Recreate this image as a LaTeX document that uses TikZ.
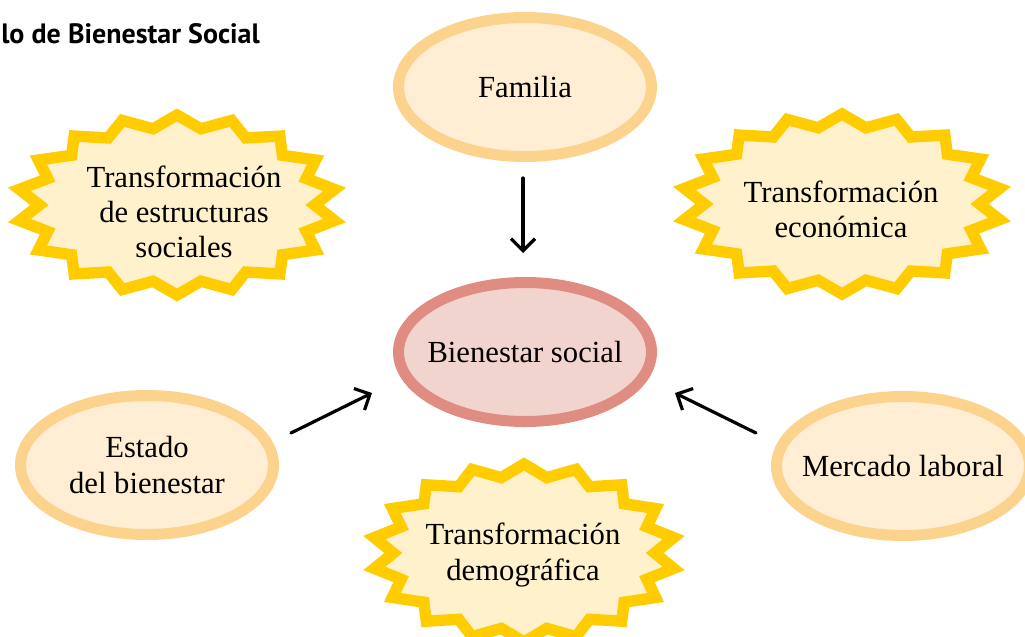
\documentclass[tikz,border=0pt]{standalone}
\usepackage{fontspec}
\setmainfont{Liberation Serif}
\newfontfamily\titulofont{PT Sans}
\usetikzlibrary{shapes.geometric,arrows.meta}
\definecolor{naranja}{HTML}{FCD38D}
\definecolor{crema}{HTML}{FFEDD4}
\definecolor{rosa}{HTML}{DF8D83}
\definecolor{rosaclaro}{HTML}{F2D4CE}
\definecolor{oro}{HTML}{FFCC00}
\definecolor{amarillo}{HTML}{FFF1CC}
\begin{document}
\begin{tikzpicture}[x=0.75pt,y=-0.75pt,>={Straight Barb[length=9pt,width=18pt]},
	font=\fontsize{23}{26.3}\selectfont, line cap=round,
	elipse/.style={ellipse,draw=naranja,fill=crema,line width=8.25pt,
		minimum width=189.75pt,minimum height=104.25pt,inner xsep=-25pt,inner ysep=0pt,align=center},
	central/.style={elipse,draw=rosa,fill=rosaclaro},
	estrella/.style={draw=oro,fill=amarillo,line width=8.5pt,line join=miter},
	flecha/.style={->,line width=2.4pt}]
	\useasboundingbox (0,0) rectangle (1025,636);
	% estrella: centro x, centro y, radio x, radio y
	\def\rayo#1#2#3#4{\draw[estrella] plot[domain=0:360,samples=37,variable=\t]
		({#1+#3*cos(\t)*(0.93-0.07*cos(18*\t))},{#2+#4*sin(\t)*(0.93-0.07*cos(18*\t))}) -- cycle;}
	\node[anchor=base west,inner sep=0pt,font=\titulofont\bfseries\fontsize{21}{24}\selectfont] (titulo) at (1,43) {lo de Bienestar Social};
	\node[elipse] (familia) at (525,87) {Familia};
	\node[central] (bienestar) at (525,352) {Bienestar social};
	\node[elipse] (estado) at (147,465) {Estado\\del bienestar};
	\node[elipse] (mercado) at (903,466) {Mercado laboral};
	\rayo{177}{205}{160}{90}
	\node[align=center] (estructuras) at (184,212) {Transformación\\de estructuras\\sociales};
	\rayo{842}{204}{160}{90}
	\node[align=center] (economica) at (841,209) {Transformación\\económica};
	\rayo{524}{553}{152}{89}
	\node[align=center] (demografica) at (523,555) {Transformación\\demográfica};
	% flechas
	\coordinate (f1) at (523,178); \coordinate (f2) at (523,253);
	\coordinate (e1) at (291,433); \coordinate (e2) at (372,393);
	\coordinate (m1) at (756,433); \coordinate (m2) at (675,393);
	\draw[flecha] (f1) -- (f2);
	\draw[flecha] (e1) -- (e2);
	\draw[flecha] (m1) -- (m2);
\end{tikzpicture}
\end{document}
